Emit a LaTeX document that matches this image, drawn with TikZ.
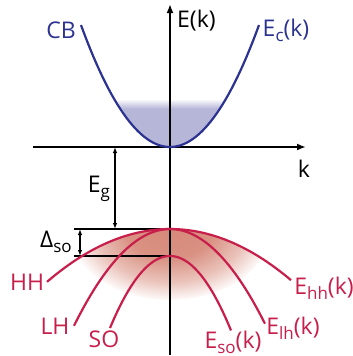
\documentclass[tikz,border=0pt]{standalone}
\usepackage{fontspec}
\setmainfont{Open Sans}
\usetikzlibrary{arrows.meta}
\definecolor{cbblue}{RGB}{43,50,145}
\definecolor{vbred}{RGB}{200,30,75}
\definecolor{cbfill}{RGB}{182,182,216}
\definecolor{vbfill}{RGB}{214,136,120}
\pgfdeclareradialshading{vbglow}{\pgfpoint{0bp}{0bp}}{color(0bp)=(vbfill); color(11bp)=(vbfill!92!white); color(19bp)=(vbfill!50!white); color(25.5bp)=(white); color(50bp)=(white)}
\newcommand{\lowsub}[1]{\raisebox{-0.22em}{\fontsize{17}{17}\selectfont #1}}
\tikzset{
  axis/.style={line width=1.8pt, -{Latex[length=9pt,width=7pt]}},
  cband/.style={cbblue, line width=2.2pt},
  vband/.style={vbred, line width=2.2pt},
  levelline/.style={line width=1.4pt},
  gaparrow/.style={line width=1.1pt, {Latex[length=6pt,width=4.5pt]}-{Latex[length=6pt,width=4.5pt]}},
  lbl/.style={font=\fontsize{23}{26}\selectfont, inner sep=0pt},
}
\begin{document}
\begin{tikzpicture}[x=1pt,y=-1pt]
\useasboundingbox (0,0) rectangle (353,356);
% shaded occupation
\begin{scope}
  \clip plot[domain=-60:60] ({170+\x},{147-0.0154*\x*\x}) -- cycle;
  \fill[cbfill] (100,108) rectangle (240,148);
  \shade[top color=white, bottom color=cbfill] (100,99) rectangle (240,108.5);
\end{scope}
\begin{scope}
  \clip plot[domain=-123:123] ({170+\x},{229+0.0035*\x*\x}) -- (293,300) -- (47,300) -- cycle;
  \shade[shading=vbglow] (170,226) ellipse [x radius=102, y radius=74];
\end{scope}
% axes
\coordinate (vstart) at (170,355);
\coordinate (vend) at (170,4);
\coordinate (hstart) at (33,147);
\coordinate (hend) at (306,147);
\draw[axis] (vstart) -- (vend);
\draw[axis] (hstart) -- (hend);
% band edges
\coordinate (gtop) at (115,147);
\coordinate (gbot) at (115,229);
\coordinate (vbtop) at (74,229);
\coordinate (vbmax) at (170,229);
\coordinate (sotop) at (74,256);
\coordinate (somax) at (170,256);
\coordinate (stop) at (80,229);
\coordinate (sbot) at (80,256);
\draw[levelline] (vbtop) -- (vbmax);
\draw[levelline] (sotop) -- (somax);
\draw[gaparrow] (gtop) -- (gbot);
\draw[gaparrow] (stop) -- (sbot);
% bands
\draw[cband] plot[domain=-89:89, samples=60] ({170+\x},{147-0.0154*\x*\x});
\draw[vband] plot[domain=-123:121, samples=60] ({170+\x},{229+0.0035*\x*\x});
\draw[vband] plot[domain=-96:95, samples=60] ({170+\x},{229+0.0105*\x*\x});
\draw[vband] plot[domain=-60:61, samples=60] ({170+\x},{256+0.02*\x*\x});
% labels
\node[lbl, anchor=west] (ek) at (177,21) {E(k)};
\node[lbl] (k) at (304,169) {k};
\node[lbl, cbblue] (cb) at (61,30) {CB};
\node[lbl, cbblue] (ec) at (286,30) {E\lowsub{c}(k)};
\node[lbl] (eg) at (99,189) {E\lowsub{g}};
\node[lbl] (dso) at (56,242) {Δ\lowsub{so}};
\node[lbl, vbred] (hh) at (27,282) {HH};
\node[lbl, vbred] (lh) at (55,326) {LH};
\node[lbl, vbred] (so) at (104,339) {SO};
\node[lbl, vbred] (ehh) at (324,288) {E\lowsub{hh}(k)};
\node[lbl, vbred] (elh) at (293,328) {E\lowsub{lh}(k)};
\node[lbl, vbred] (eso) at (233,342) {E\lowsub{so}(k)};
\end{tikzpicture}
\end{document}
